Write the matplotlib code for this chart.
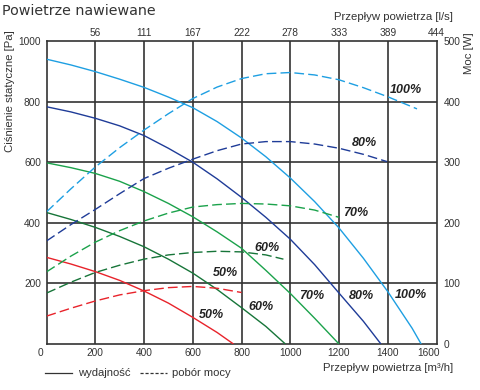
import matplotlib
matplotlib.use('Agg')
import matplotlib.pyplot as plt
import matplotlib.transforms as mtransforms
from matplotlib.lines import Line2D

plt.rcParams['font.family'] = ['Liberation Sans', 'DejaVu Sans']

# --- dane ---
# wydajnosc: cisnienie statyczne [Pa] w funkcji przeplywu [m3/h]
flow_100 = [0, 100, 200, 300, 400, 500, 600, 700, 800, 900, 1000, 1100, 1200, 1300, 1400, 1500, 1537]
pa_100 = [940, 921, 899, 874, 847, 815, 780, 734, 680, 618, 548, 470, 383, 283, 173, 52, 0]
flow_80 = [0, 100, 200, 300, 400, 500, 600, 700, 800, 900, 1000, 1100, 1200, 1300, 1372]
pa_80 = [783, 766, 745, 720, 688, 646, 600, 545, 484, 418, 346, 262, 168, 75, 0]
flow_70 = [0, 100, 200, 300, 400, 500, 600, 700, 800, 900, 1000, 1100, 1200]
pa_70 = [598, 582, 563, 537, 503, 464, 420, 370, 316, 243, 167, 85, 0]
flow_60 = [0, 100, 200, 300, 400, 500, 600, 700, 800, 900, 980]
pa_60 = [434, 411, 385, 355, 321, 280, 234, 180, 120, 58, 0]
flow_50 = [0, 100, 200, 300, 400, 500, 600, 700, 767]
pa_50 = [286, 264, 239, 210, 175, 135, 88, 38, 0]

# pobor mocy [W]
pflow_100 = [0, 100, 200, 300, 400, 500, 600, 700, 800, 900, 1000, 1100, 1200, 1300, 1400, 1520]
w_100 = [218, 256, 292, 324, 353, 380, 405, 424, 438, 446, 448, 444, 436, 423, 408, 388]
pflow_80 = [0, 100, 200, 300, 400, 500, 600, 700, 800, 900, 1000, 1100, 1200, 1300, 1397]
w_80 = [170, 197, 222, 248, 273, 290, 305, 319, 330, 334, 334, 330, 323, 313, 301]
pflow_70 = [0, 100, 200, 300, 400, 500, 600, 700, 800, 900, 1000, 1100, 1200]
w_70 = [119, 145, 168, 187, 203, 216, 226, 230, 232, 231, 228, 221, 209]
pflow_60 = [0, 100, 200, 300, 400, 500, 600, 700, 800, 900, 972]
w_60 = [84, 102, 118, 130, 140, 147, 151, 153, 152, 147, 140]
pflow_50 = [0, 100, 200, 300, 400, 500, 600, 700, 800]
w_50 = [46, 59, 71, 81, 88, 93, 95, 92, 85]

x_ticks = [0, 200, 400, 600, 800, 1000, 1200, 1400, 1600]
x_top_ticks = [200, 400, 600, 800, 1000, 1200, 1400, 1600]
x_top_labels = ['56', '111', '167', '222', '278', '333', '389', '444']
y_ticks = [200, 400, 600, 800, 1000]
w_ticks = [0, 100, 200, 300, 400, 500]

# etykiety procentowe (x [m3/h], y [Pa])
lab_text = ['100%', '80%', '70%', '60%', '50%', '50%', '60%', '70%', '80%', '100%']
lab_x = [1476, 1304, 1269, 903, 733, 676, 881, 1090, 1292, 1495]
lab_y = [838, 663, 432, 317, 234, 96, 122, 158, 158, 162]

c_lb = '#1e9fe2'
c_db = '#1f3c98'
c_gr = '#1ba24b'
c_dg = '#177539'
c_rd = '#e8232b'
grid_c = '#333333'
txt_c = '#333333'

fig = plt.figure(figsize=(4.8, 3.9), dpi=100)
ax = fig.add_axes([46.5 / 480, 46 / 390, 390 / 480, 303 / 390])
ax.set_xlim(0, 1600)
ax.set_ylim(0, 1000)

for s in ax.spines.values():
    s.set_color(grid_c)
    s.set_linewidth(1.2)
for xv in x_ticks[1:-1]:
    ax.axvline(xv, color=grid_c, lw=1.2, zorder=1)
for yv in y_ticks[:-1]:
    ax.axhline(yv, color=grid_c, lw=1.2, zorder=1)

# krzywe wydajnosci
for fx, fy, c in [(flow_100, pa_100, c_lb), (flow_80, pa_80, c_db), (flow_70, pa_70, c_gr),
                  (flow_60, pa_60, c_dg), (flow_50, pa_50, c_rd)]:
    ax.plot(fx, fy, color=c, lw=1.0, zorder=3, solid_capstyle='butt')

ax.set_xticks(x_ticks)
ax.set_xticklabels([str(v) for v in x_ticks])
ax.set_yticks(y_ticks)
ax.set_yticklabels([str(v) for v in y_ticks])
ax.tick_params(length=0, labelsize=7.3, colors=txt_c, pad=3)
ax.tick_params(axis='y', pad=4)

# przesuniecie skrajnych etykiet osi x
xl = ax.get_xticklabels()
xl[0].set_transform(xl[0].get_transform() + mtransforms.ScaledTranslation(-6 / 100, 0, fig.dpi_scale_trans))
xl[-1].set_transform(xl[-1].get_transform() + mtransforms.ScaledTranslation(-8 / 100, 0, fig.dpi_scale_trans))

# os mocy
ax2 = ax.twinx()
ax2.set_ylim(0, 500)
for fx, fy, c in [(pflow_100, w_100, c_lb), (pflow_80, w_80, c_db), (pflow_70, w_70, c_gr),
                  (pflow_60, w_60, c_dg), (pflow_50, w_50, c_rd)]:
    ax2.plot(fx, fy, color=c, lw=1.0, ls=(0, (7, 3)), zorder=3)
ax2.set_yticks(w_ticks)
ax2.set_yticklabels([str(v) for v in w_ticks])
ax2.tick_params(length=0, labelsize=7.3, colors=txt_c, pad=5)
for s in ax2.spines.values():
    s.set_visible(False)

# gorna os [l/s]
top = ax.secondary_xaxis('top')
top.set_xticks(x_top_ticks)
top.set_xticklabels(x_top_labels)
top.tick_params(length=0, labelsize=7.3, colors=txt_c, pad=2)
top.spines['top'].set_visible(False)

for t, xv, yv in zip(lab_text, lab_x, lab_y):
    ax.text(xv, yv, t, fontsize=9, fontweight='bold', fontstyle='italic',
            color='#222222', ha='center', va='center', zorder=5)

fig.text(2 / 480, 1 - 11 / 390, 'Powietrze nawiewane', fontsize=10.3, color=txt_c,
         family='DejaVu Sans', ha='left', va='center')
fig.text(10 / 480, 1 - 91 / 390, 'Ciśnienie statyczne [Pa]', rotation=90, fontsize=8.2,
         color=txt_c, ha='center', va='center')
fig.text(469 / 480, 1 - 53 / 390, 'Moc [W]', rotation=90, fontsize=8.2,
         color=txt_c, ha='center', va='center')
fig.text(453 / 480, 1 - 17 / 390, 'Przepływ powietrza [l/s]', fontsize=8.2,
         color=txt_c, ha='right', va='center')
fig.text(453 / 480, 1 - 368 / 390, 'Przepływ powietrza [m³/h]', fontsize=8.2,
         color=txt_c, ha='right', va='center')

# legenda
ly = 1 - 373 / 390
fig.add_artist(Line2D([45 / 480, 72 / 480], [ly, ly], color=txt_c, lw=0.9))
fig.text(78 / 480, ly, 'wydajność', fontsize=8.1, color=txt_c, ha='left', va='center')
fig.add_artist(Line2D([140 / 480, 167 / 480], [ly, ly], color=txt_c, lw=0.9, ls=(0, (2.5, 1.5))))
fig.text(172 / 480, ly, 'pobór mocy', fontsize=8.1, color=txt_c, ha='left', va='center')

fig.savefig('out.png', dpi=100, facecolor='white')
